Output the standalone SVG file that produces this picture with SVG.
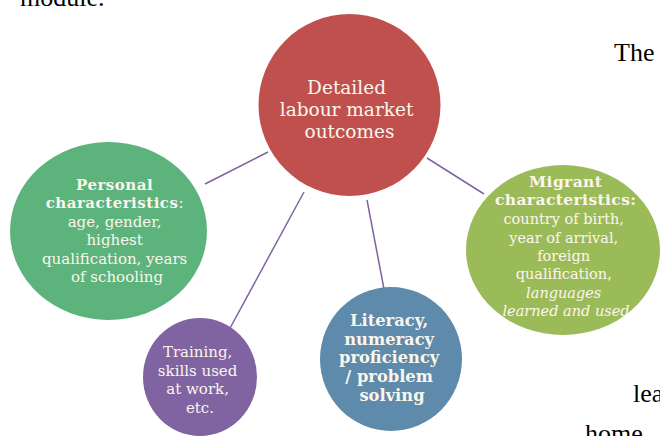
<svg xmlns="http://www.w3.org/2000/svg" width="660" height="436" viewBox="0 0 660 436">
  <style>
    .body { font-family: "Liberation Serif", "Times New Roman", serif; fill: #000; font-size: 26px; }
    .lbl { font-family: "DejaVu Serif", Georgia, serif; fill: #fbf6ec; text-anchor: middle; }
    .b { font-weight: bold; }
    .i { font-style: italic; }
    .link { stroke: #8064a2; stroke-width: 1.5; fill: none; }
  </style>
  <rect width="660" height="436" fill="#fff"/>

  <!-- surrounding page text -->
  <text class="body" x="20" y="6">module.</text>
  <text class="body" x="614" y="61">The</text>
  <text class="body" x="633" y="402">lea</text>
  <text class="body" x="585" y="442">home</text>

  <!-- connectors -->
  <g id="connectors">
    <line class="link" x1="268" y1="152" x2="205" y2="184"/>
    <line class="link" x1="427" y1="158" x2="484" y2="194"/>
    <line class="link" x1="304" y1="192" x2="229" y2="330"/>
    <line class="link" x1="367" y1="200" x2="384" y2="289"/>
  </g>

  <g id="outcomes">
    <ellipse cx="349.5" cy="105" rx="91" ry="91" fill="#c0504d"/>
    <text class="lbl" font-size="18.5">
      <tspan x="349.5" y="94">Detailed</tspan>
      <tspan x="349.5" y="116">labour market</tspan>
      <tspan x="349.5" y="138">outcomes</tspan>
    </text>
  </g>

  <g id="personal">
    <ellipse cx="108.5" cy="231" rx="98.5" ry="89" fill="#5cb37c"/>
    <text class="lbl" font-size="15">
      <tspan x="117" y="190" class="b" letter-spacing="0.5">Personal</tspan>
      <tspan x="117" y="208"><tspan class="b" letter-spacing="0.5">characteristics</tspan>:</tspan>
      <tspan x="117" y="227">age, gender,</tspan>
      <tspan x="117" y="245">highest</tspan>
      <tspan x="117" y="264">qualification, years</tspan>
      <tspan x="117" y="282">of schooling</tspan>
    </text>
  </g>

  <g id="migrant">
    <ellipse cx="563" cy="250" rx="97" ry="85" fill="#9bbb59"/>
    <text class="lbl" font-size="14.5">
      <tspan x="568" y="187" class="b" font-size="15.5" letter-spacing="0.4">Migrant</tspan>
      <tspan x="568" y="205" class="b" font-size="15.5" letter-spacing="0.4">characteristics:</tspan>
      <tspan x="566" y="224">country of birth,</tspan>
      <tspan x="566" y="243">year of arrival,</tspan>
      <tspan x="566" y="261">foreign</tspan>
      <tspan x="566" y="279">qualification,</tspan>
      <tspan x="566" y="298" class="i">languages</tspan>
      <tspan x="566" y="316" class="i">learned and used</tspan>
    </text>
  </g>

  <g id="training">
    <ellipse cx="200" cy="377" rx="57" ry="59" fill="#8064a2"/>
    <text class="lbl" font-size="15">
      <tspan x="200" y="357">Training,</tspan>
      <tspan x="200" y="376">skills used</tspan>
      <tspan x="200" y="394">at work,</tspan>
      <tspan x="200" y="413">etc.</tspan>
    </text>
  </g>

  <g id="literacy">
    <ellipse cx="391" cy="359" rx="71" ry="72" fill="#5e8aab"/>
    <text class="lbl b" font-size="16.3">
      <tspan x="392" y="326">Literacy,</tspan>
      <tspan x="392" y="345">numeracy</tspan>
      <tspan x="392" y="363">proficiency</tspan>
      <tspan x="392" y="382">/ problem</tspan>
      <tspan x="392" y="401">solving</tspan>
    </text>
  </g>
</svg>
